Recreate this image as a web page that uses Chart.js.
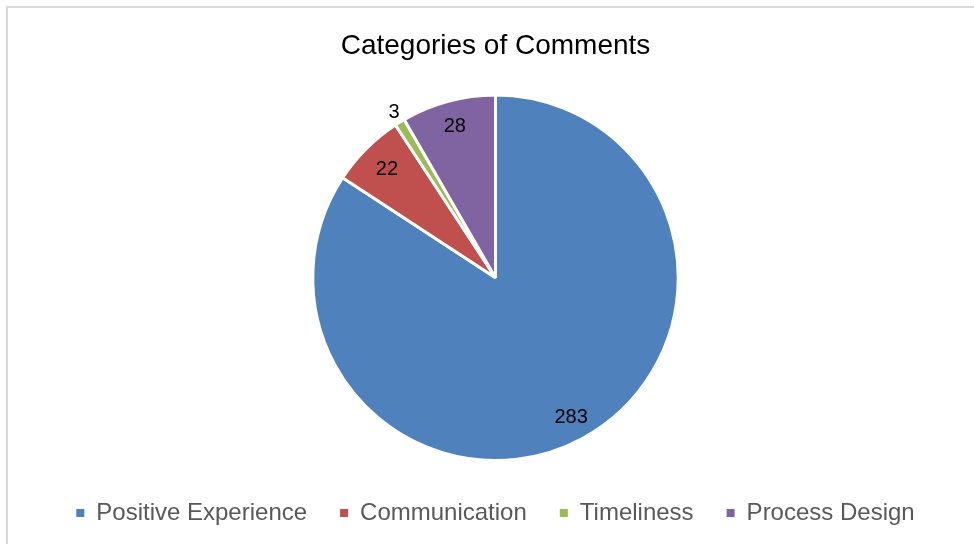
<!DOCTYPE html>
<html lang="en">
<head>
  <meta charset="utf-8" />
  <title>Categories of Comments</title>
  <style>
    html, body {
      margin: 0;
      padding: 0;
      background: #ffffff;
      overflow: hidden;
    }
    .frame {
      position: absolute;
      left: 6px;
      top: 6px;
      width: 1000px;
      height: 600px;
      border-top: 2px solid #d9d9d9;
      border-left: 2px solid #d9d9d9;
    }
    .wrap {
      position: absolute;
      left: 0;
      top: 0;
      width: 974px;
      height: 544px;
    }
  </style>
</head>
<body>
  <div class="frame"></div>
  <div class="wrap"><canvas id="chart"></canvas></div>

  <script src="https://cdn.jsdelivr.net/npm/chart.js"></script>
  <script>
    const categories = ['Positive Experience', 'Communication', 'Timeliness', 'Process Design'];
    const counts = [283, 22, 3, 28];
    const colors = ['#4f81bd', '#c0504d', '#9bbb59', '#8064a2'];

    // where each value label sits, as a fraction of the radius
    const labelRadius = [0.87, 0.84, 1.06, 0.86];

    const valueLabels = {
      id: 'valueLabels',
      afterDatasetsDraw(chart) {
        const ctx = chart.ctx;
        const meta = chart.getDatasetMeta(0);
        ctx.save();
        ctx.font = '20px "Liberation Sans", Arial, sans-serif';
        ctx.fillStyle = '#000000';
        ctx.textAlign = 'center';
        ctx.textBaseline = 'middle';
        meta.data.forEach((arc, i) => {
          const p = arc.getProps(['x', 'y', 'startAngle', 'endAngle', 'outerRadius'], true);
          const mid = (p.startAngle + p.endAngle) / 2;
          const r = p.outerRadius * labelRadius[i];
          ctx.fillText(String(counts[i]), p.x + Math.cos(mid) * r, p.y + Math.sin(mid) * r);
        });
        ctx.restore();
      }
    };

    const defaultLabels = Chart.controllers.pie.overrides.plugins.legend.labels.generateLabels;

    new Chart(document.getElementById('chart'), {
      type: 'pie',
      data: {
        labels: categories,
        datasets: [{
          data: counts,
          backgroundColor: colors,
          borderColor: '#ffffff',
          borderWidth: 3,
          hoverOffset: 0
        }]
      },
      options: {
        responsive: true,
        maintainAspectRatio: false,
        animation: false,
        layout: { padding: { left: 17, right: 0, top: 0, bottom: 9 } },
        plugins: {
          title: {
            display: true,
            text: 'Categories of Comments',
            color: '#000000',
            font: { family: '"Liberation Sans", Arial, sans-serif', size: 28, weight: 'normal' },
            padding: { top: 29, bottom: 31 }
          },
          legend: {
            position: 'bottom',
            // empty title only adds a little space above the items
            title: { display: true, text: '', font: { size: 5 }, padding: 0 },
            labels: {
              color: '#595959',
              font: { family: '"Liberation Sans", Arial, sans-serif', size: 24 },
              boxWidth: 8,
              boxHeight: 8,
              padding: 33,
              // plain squares, without the white slice border
              generateLabels(chart) {
                return defaultLabels(chart).map(item => ({ ...item, lineWidth: 0 }));
              }
            }
          },
          tooltip: { enabled: false }
        }
      },
      plugins: [valueLabels]
    });
  </script>
</body>
</html>
